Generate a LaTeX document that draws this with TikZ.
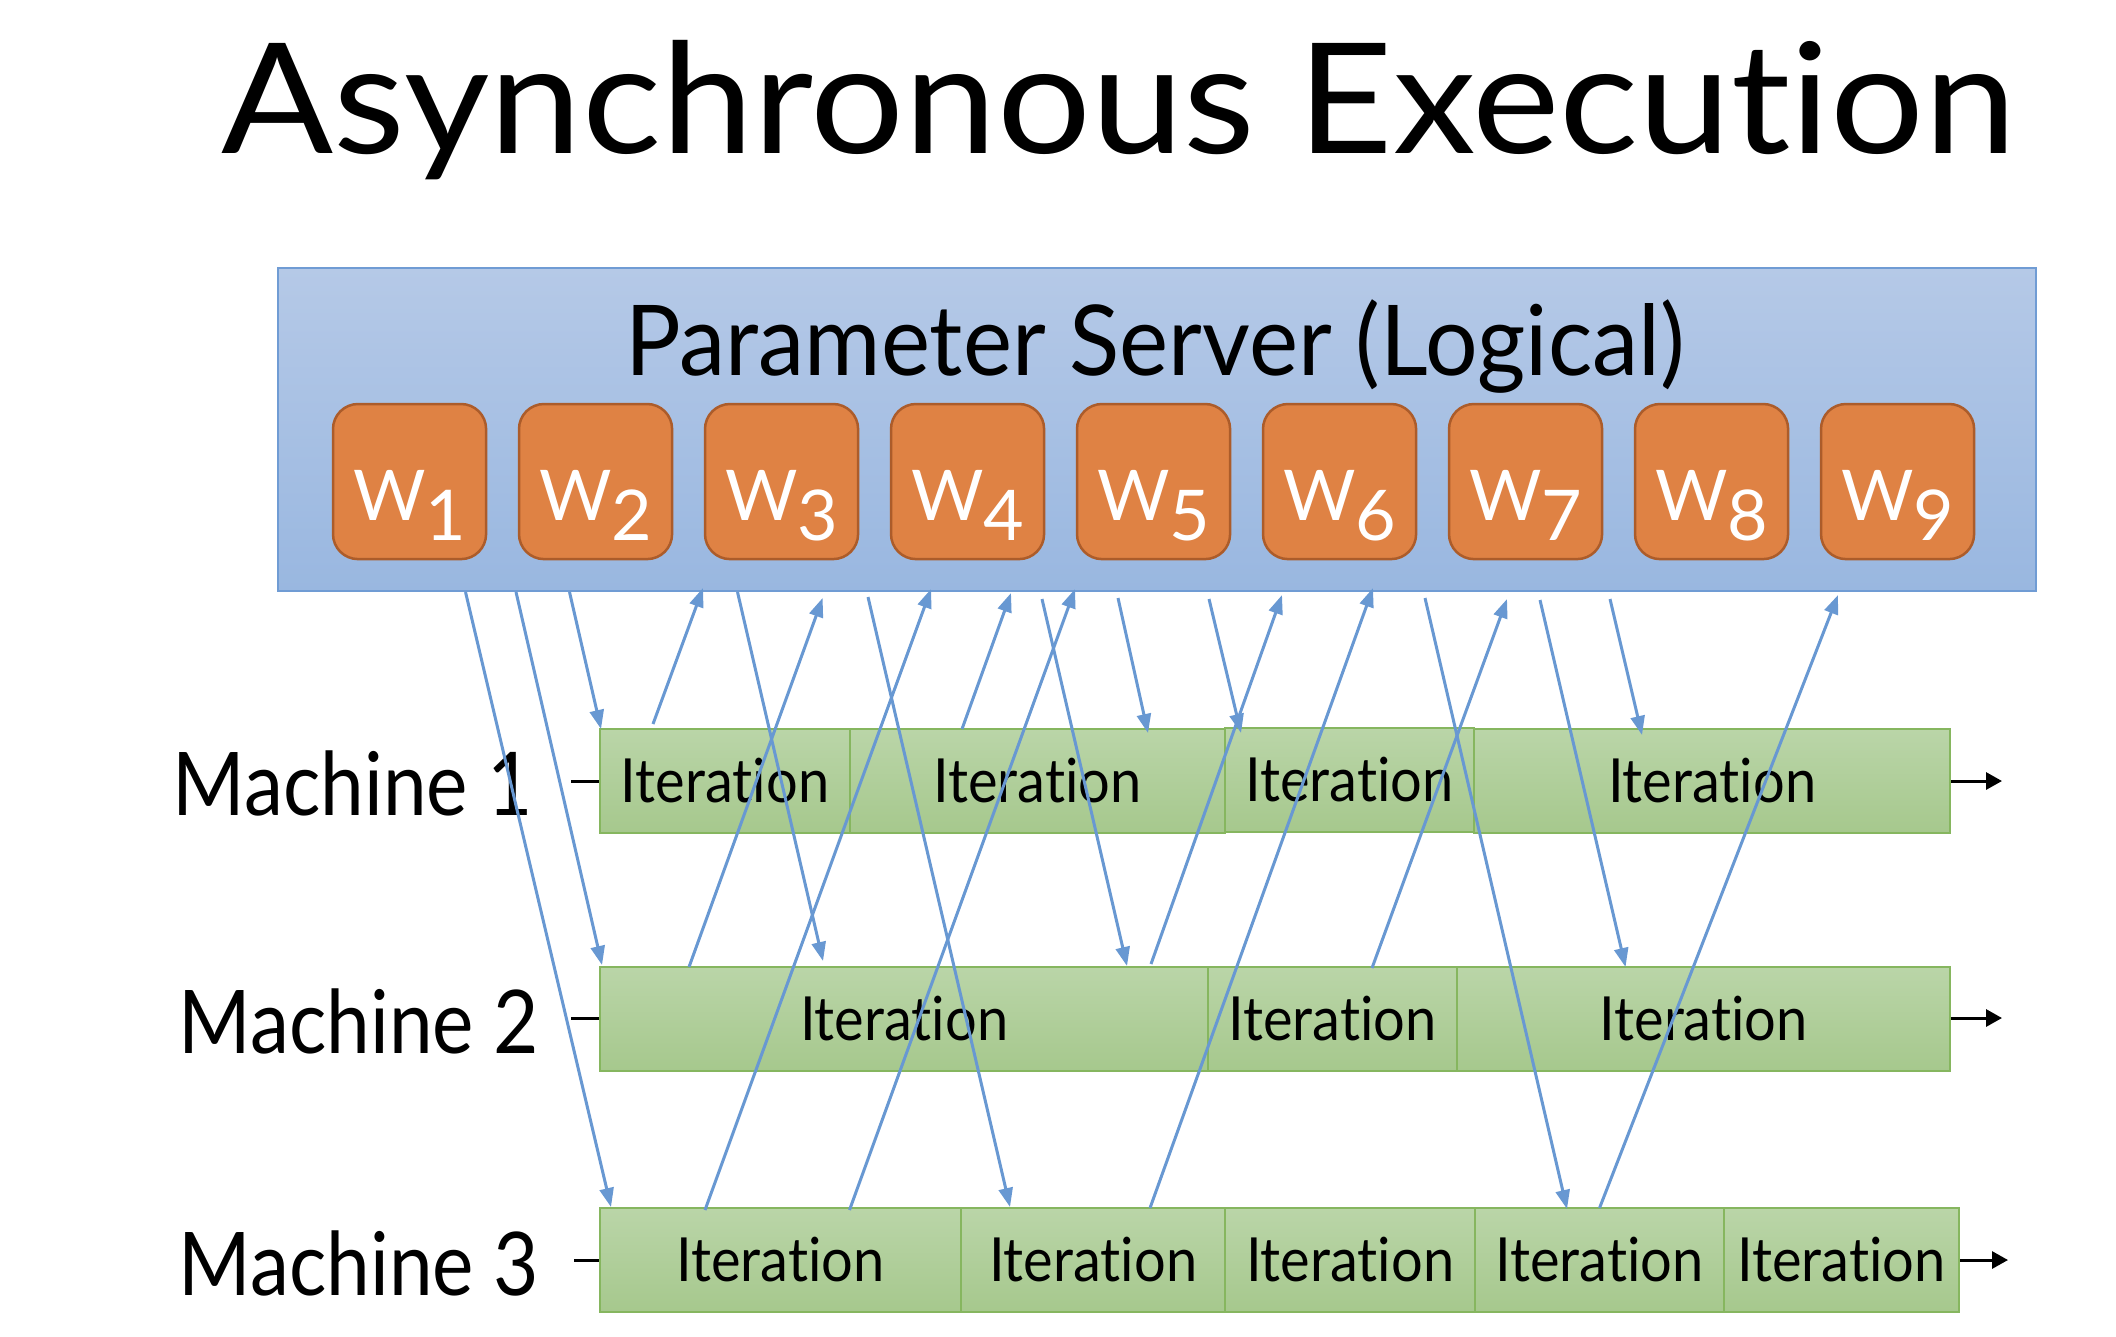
\documentclass[tikz,border=0pt]{standalone}
\usepackage{fontspec}
\setmainfont{Lato}[Ligatures={NoCommon,NoContextual}]
\usetikzlibrary{arrows.meta}
\definecolor{lineblue}{RGB}{104,152,210}
\definecolor{srvtop}{RGB}{181,201,231}
\definecolor{srvbot}{RGB}{153,183,224}
\definecolor{srvborder}{RGB}{112,156,212}
\definecolor{wfill}{RGB}{223,130,68}
\definecolor{wborder}{RGB}{172,92,42}
\definecolor{itgtop}{RGB}{186,213,168}
\definecolor{itgbot}{RGB}{166,200,141}
\definecolor{itgborder}{RGB}{134,182,95}
\newcommand\fTitle{\fontsize{43.7pt}{50pt}\selectfont\addfontfeatures{FakeStretch=1.078}}
\newcommand\fPS{\fontsize{27.8pt}{32pt}\selectfont\addfontfeatures{FakeStretch=0.95}}
\newcommand\fWlab{\fontsize{19.9pt}{24pt}\selectfont}
\newcommand\fIter{\fontsize{17.3pt}{20pt}\selectfont\addfontfeatures{FakeStretch=0.92}}
\newcommand\fMach{\fontsize{25pt}{30pt}\selectfont\addfontfeatures{FakeStretch=0.89}}
\tikzset{
  blueline/.style={draw=lineblue, line width=0.03cm, -{Triangle[length=0.19cm,width=0.14cm]}},
  timeline/.style={draw=black, line width=0.03cm, -{Triangle[length=0.16cm,width=0.17cm]}},
  iterbox/.style={draw=itgborder, line width=0.02cm, top color=itgtop, bottom color=itgbot,
    anchor=north west, minimum height=1.04cm, inner sep=0pt, outer sep=0pt,
    text height=0.435cm, text depth=0pt, font=\fIter},
  wbox/.style={draw=wborder, line width=0.025cm, fill=wfill, rounded corners=0.25cm,
    anchor=north west, minimum width=1.53cm, inner sep=0pt, outer sep=0pt,
    text height=1.16cm, text depth=0.39cm, text=white, font=\fWlab},
  serverbox/.style={draw=srvborder, line width=0.025cm, top color=srvtop, bottom color=srvbot,
    anchor=north west, minimum width=17.57cm, minimum height=3.23cm, inner sep=0pt, outer sep=0pt},
  machlabel/.style={anchor=base east, font=\fMach, inner sep=0pt},
}
\begin{document}
\begin{tikzpicture}[x=0.01cm,y=-0.01cm]
\useasboundingbox (0,0) rectangle (2116,1336);
% title
\node[anchor=base, font=\fTitle, inner sep=0pt] (title) at (1119,153) {Asynchronous Execution};
% server
\node[serverbox] (server) at (278,268) {};
\node[anchor=base, font=\fPS, inner sep=0pt] (pstitle) at (1155,375) {Parameter Server (Logical)};
\foreach \i in {1,...,9}{
  \node[wbox] (w\i) at ({333+186*(\i-1)},404) {W\raisebox{-0.2cm}{\i}};
}
% machine labels
\node[machlabel] (mach1) at (534,815) {Machine 1};
\node[machlabel] (mach2) at (540,1053) {Machine 2};
\node[machlabel] (mach3) at (540,1295) {Machine 3};
% timelines
\coordinate (t1s) at (571,781);  \coordinate (t1e) at (2002,781);
\coordinate (t2s) at (571,1018); \coordinate (t2e) at (2002,1018);
\coordinate (t3s) at (574,1260); \coordinate (t3e) at (2008,1260);
\draw[timeline] (t1s) -- (t1e);
\draw[timeline] (t2s) -- (t2e);
\draw[timeline] (t3s) -- (t3e);
% machine 1
\node[iterbox, minimum width=2.50cm] (m1a) at (600,729) {Iteration};
\node[iterbox, minimum width=3.75cm] (m1b) at (850,729) {Iteration};
\node[iterbox, minimum width=2.49cm] (m1c) at (1225,728) {Iteration};
\node[iterbox, minimum width=4.76cm] (m1d) at (1474,729) {Iteration};
% machine 2
\node[iterbox, minimum width=6.08cm] (m2a) at (600,967) {Iteration};
\node[iterbox, minimum width=2.49cm] (m2b) at (1208,967) {Iteration};
\node[iterbox, minimum width=4.93cm] (m2c) at (1457,967) {Iteration};
% machine 3
\node[iterbox, minimum width=3.61cm] (m3a) at (600,1208) {Iteration};
\node[iterbox, minimum width=2.64cm] (m3b) at (961,1208) {Iteration};
\node[iterbox, minimum width=2.50cm] (m3c) at (1225,1208) {Iteration};
\node[iterbox, minimum width=2.49cm] (m3d) at (1475,1208) {Iteration};
\node[iterbox, minimum width=2.35cm] (m3e) at (1724,1208) {Iteration};
% pulls (server -> machines)
\coordinate (p1) at (465.5,592);  \coordinate (q1) at (611,1207);
\coordinate (p2) at (516,592);    \coordinate (q2) at (602,965);
\coordinate (p3) at (569.5,592);  \coordinate (q3) at (601,729);
\coordinate (p4) at (737.5,592);  \coordinate (q4) at (823,961);
\coordinate (p5) at (868,597);    \coordinate (q5) at (1010,1207);
\coordinate (p6) at (1042,599);   \coordinate (q6) at (1127,966);
\coordinate (p7) at (1118,598);   \coordinate (q7) at (1148,733);
\coordinate (p8) at (1209,599);   \coordinate (q8) at (1241,733);
\coordinate (p9) at (1425,598);   \coordinate (q9) at (1567,1209);
\coordinate (p10) at (1540,600);  \coordinate (q10) at (1625.5,967);
\coordinate (p11) at (1610,599);  \coordinate (q11) at (1642,735);
\foreach \k in {1,...,11}{ \draw[blueline] (p\k) -- (q\k); }
% pushes (machines -> server)
\coordinate (ua) at (653,724);    \coordinate (va) at (703,588);
\coordinate (ub) at (689,967);    \coordinate (vb) at (822.6,598);
\coordinate (uc) at (705,1210);   \coordinate (vc) at (931,589);
\coordinate (ud) at (962,729);    \coordinate (vd) at (1011,593);
\coordinate (ue) at (849.5,1210); \coordinate (ve) at (1075,589);
\coordinate (uf) at (1151,964);   \coordinate (vf) at (1282,595);
\coordinate (ug) at (1150,1208);  \coordinate (vg) at (1373,588);
\coordinate (uh) at (1372,968);   \coordinate (vh) at (1507,599);
\coordinate (ui) at (1599.5,1208);\coordinate (vi) at (1838,595);
\foreach \k in {a,b,c,d,e,f,g,h,i}{ \draw[blueline] (u\k) -- (v\k); }
\end{tikzpicture}
\end{document}
